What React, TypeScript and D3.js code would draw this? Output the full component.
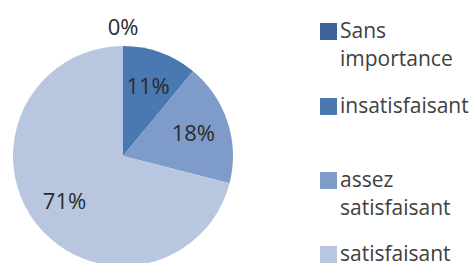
import React from "react";
import * as d3 from "d3";

const categories = ["Sans importance", "insatisfaisant", "assez satisfaisant", "satisfaisant"];
const values = [0, 11, 18, 71];
const legendLines = [["Sans", "importance"], ["insatisfaisant"], ["assez", "satisfaisant"], ["satisfaisant"]];
const colors = ["#3e6598", "#4a78b0", "#7f9bc9", "#b8c6e0"];

const width = 474;
const height = 263;
const cx = 123;
const cy = 156;
const radius = 110;

export default function App() {
  const pie = d3.pie<number>().sort(null).value(d => d);
  const arcs = pie(values);
  const arc = d3.arc<d3.PieArcDatum<number>>().innerRadius(0).outerRadius(radius);
  const labelArc = d3.arc<d3.PieArcDatum<number>>().innerRadius(74).outerRadius(74);
  const outerLabelArc = d3.arc<d3.PieArcDatum<number>>().innerRadius(129).outerRadius(129);

  // legend rows, uneven spacing as in the original
  const legendY = [23, 98, 172, 246];
  const font = "'Open Sans', 'Noto Sans', sans-serif";

  return (
    <svg width={width} height={height} style={{ position: "absolute", left: 0, top: 0, background: "#fff" }}>
      <g transform={`translate(${cx},${cy})`}>
        {arcs.map((a, i) => (
          <path key={categories[i]} d={arc(a) || ""} fill={colors[i]} />
        ))}
        {arcs.map((a, i) => {
          const [x, y] = a.value === 0 ? outerLabelArc.centroid(a) : labelArc.centroid(a);
          return (
            <text key={"l" + i} x={x} y={y} dy="0.35em" textAnchor="middle"
              fontFamily={font} fontSize={22} fill="#2b2b2b">
              {d3.format(".0%")(a.value / d3.sum(values))}
            </text>
          );
        })}
      </g>
      <g>
        {categories.map((c, i) => (
          <g key={c} transform={`translate(320,${legendY[i]})`}>
            <rect width={17} height={17} fill={colors[i]} />
            {legendLines[i].map((line, j) => (
              <text key={j} x={20} y={15 + j * 28} fontFamily={font} fontSize={21} fill="#404040">
                {line}
              </text>
            ))}
          </g>
        ))}
      </g>
    </svg>
  );
}
